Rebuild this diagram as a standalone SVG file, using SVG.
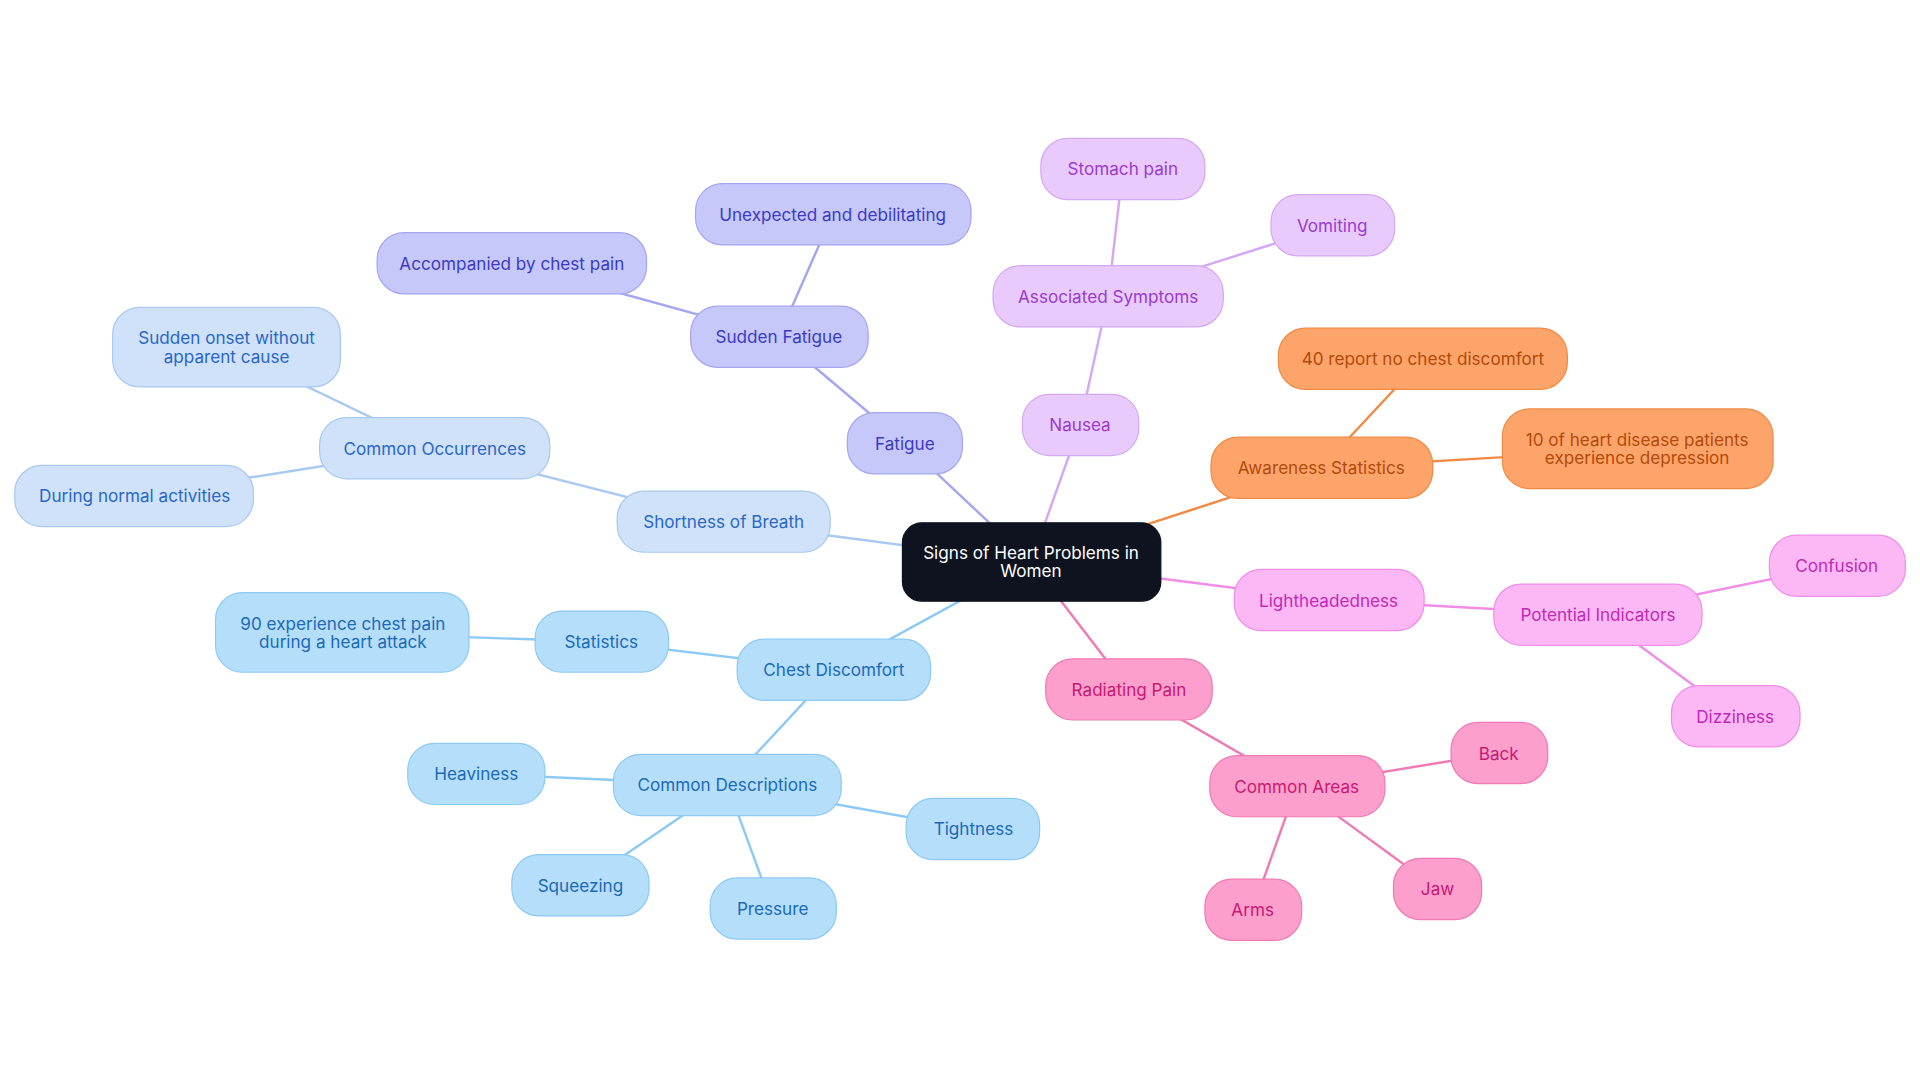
<svg xmlns="http://www.w3.org/2000/svg" width="1920" height="1083" viewBox="0 0 1920 1083">
<style>
text{font-family:Inter,"Noto Sans",sans-serif;font-size:14px;text-anchor:middle;dominant-baseline:central}
.c rect{fill:#0f131f;stroke:#0f131f}.c text{fill:#fff}
.f rect{fill:#c7c8fa;stroke:#a4a6f0}.f text{fill:#3a3ac4}
.s rect{fill:#cfe2fa;stroke:#a9c9f0}.s text{fill:#2a66c8}
.d rect{fill:#b5defb;stroke:#8ccaf5}.d text{fill:#1a6ab8}
.n rect{fill:#e8cbfc;stroke:#d4a8f5}.n text{fill:#9a3ad0}
.a rect{fill:#fda46a;stroke:#f08a44}.a text{fill:#b34a0a}
.l rect{fill:#fbb8f4;stroke:#f08ee6}.l text{fill:#c02ab4}
.r rect{fill:#fc9fcd;stroke:#f07ab4}.r text{fill:#c81872}
#edges line{stroke-width:2}
</style>
<rect width="1920" height="1083" fill="#fff"/>
<g transform="scale(1.2245)">
<g id="edges">
<g stroke="#a4a6f0"><line x1="842" y1="459" x2="739" y2="362"/><line x1="739" y1="362" x2="636" y2="275"/><line x1="636" y1="275" x2="680" y2="175"/><line x1="636" y1="275" x2="418" y2="215"/></g>
<g stroke="#a9c9f0"><line x1="842" y1="459" x2="591" y2="426"/><line x1="591" y1="426" x2="355" y2="366"/><line x1="355" y1="366" x2="185" y2="284"/><line x1="355" y1="366" x2="110" y2="405"/></g>
<g stroke="#8ccaf5"><line x1="842" y1="459" x2="681" y2="547"/><line x1="681" y1="547" x2="491" y2="524"/><line x1="491" y1="524" x2="280" y2="517"/><line x1="681" y1="547" x2="594" y2="641"/><line x1="594" y1="641" x2="389" y2="632"/><line x1="594" y1="641" x2="474" y2="723"/><line x1="594" y1="641" x2="631" y2="742"/><line x1="594" y1="641" x2="795" y2="677"/></g>
<g stroke="#d4a8f5"><line x1="842" y1="459" x2="882" y2="347"/><line x1="882" y1="347" x2="905" y2="242"/><line x1="905" y1="242" x2="917" y2="138"/><line x1="905" y1="242" x2="1088" y2="184"/></g>
<g stroke="#f08a44"><line x1="842" y1="459" x2="1079" y2="382"/><line x1="1079" y1="382" x2="1162" y2="293"/><line x1="1079" y1="382" x2="1337" y2="367"/></g>
<g stroke="#f08ee6"><line x1="842" y1="459" x2="1085" y2="490"/><line x1="1085" y1="490" x2="1305" y2="502"/><line x1="1305" y1="502" x2="1500" y2="462"/><line x1="1305" y1="502" x2="1417" y2="585"/></g>
<g stroke="#f07ab4"><line x1="842" y1="459" x2="922" y2="563"/><line x1="922" y1="563" x2="1059" y2="642"/><line x1="1059" y1="642" x2="1224" y2="615"/><line x1="1059" y1="642" x2="1174" y2="726"/><line x1="1059" y1="642" x2="1023" y2="743"/></g>
</g>
<g id="center" class="c"><rect x="737" y="427" width="211" height="64" rx="16"/><text x="842" y="451">Signs of Heart Problems in</text><text x="842" y="466">Women</text></g>
<g id="fatigue" class="f"><rect x="692" y="337" width="94" height="50" rx="22"/><text x="739" y="362">Fatigue</text></g>
<g id="sudden-fatigue" class="f"><rect x="564" y="250" width="145" height="50" rx="22"/><text x="636" y="275">Sudden Fatigue</text></g>
<g id="unexpected" class="f"><rect x="568" y="150" width="225" height="50" rx="22"/><text x="680" y="175">Unexpected and debilitating</text></g>
<g id="accompanied" class="f"><rect x="308" y="190" width="220" height="50" rx="22"/><text x="418" y="215">Accompanied by chest pain</text></g>
<g id="sob" class="s"><rect x="504" y="401" width="174" height="50" rx="22"/><text x="591" y="426">Shortness of Breath</text></g>
<g id="common-occ" class="s"><rect x="261" y="341" width="188" height="50" rx="22"/><text x="355" y="366">Common Occurrences</text></g>
<g id="sudden-onset" class="s"><rect x="92" y="251" width="186" height="65" rx="22"/><text x="185" y="276">Sudden onset without</text><text x="185" y="291">apparent cause</text></g>
<g id="normal" class="s"><rect x="12" y="380" width="195" height="50" rx="22"/><text x="110" y="405">During normal activities</text></g>
<g id="chest" class="d"><rect x="602" y="522" width="158" height="50" rx="22"/><text x="681" y="547">Chest Discomfort</text></g>
<g id="statistics" class="d"><rect x="437" y="499" width="109" height="50" rx="22"/><text x="491" y="524">Statistics</text></g>
<g id="ninety" class="d"><rect x="176" y="484" width="207" height="65" rx="22"/><text x="280" y="509">90 experience chest pain</text><text x="280" y="524">during a heart attack</text></g>
<g id="common-desc" class="d"><rect x="501" y="616" width="186" height="50" rx="22"/><text x="594" y="641">Common Descriptions</text></g>
<g id="heaviness" class="d"><rect x="333" y="607" width="112" height="50" rx="22"/><text x="389" y="632">Heaviness</text></g>
<g id="squeezing" class="d"><rect x="418" y="698" width="112" height="50" rx="22"/><text x="474" y="723">Squeezing</text></g>
<g id="pressure" class="d"><rect x="580" y="717" width="103" height="50" rx="22"/><text x="631" y="742">Pressure</text></g>
<g id="tightness" class="d"><rect x="740" y="652" width="109" height="50" rx="22"/><text x="795" y="677">Tightness</text></g>
<g id="nausea" class="n"><rect x="835" y="322" width="95" height="50" rx="22"/><text x="882" y="347">Nausea</text></g>
<g id="assoc" class="n"><rect x="811" y="217" width="188" height="50" rx="22"/><text x="905" y="242">Associated Symptoms</text></g>
<g id="stomach" class="n"><rect x="850" y="113" width="134" height="50" rx="22"/><text x="917" y="138">Stomach pain</text></g>
<g id="vomiting" class="n"><rect x="1038" y="159" width="101" height="50" rx="22"/><text x="1088" y="184">Vomiting</text></g>
<g id="awareness" class="a"><rect x="989" y="357" width="181" height="50" rx="22"/><text x="1079" y="382">Awareness Statistics</text></g>
<g id="forty" class="a"><rect x="1044" y="268" width="236" height="50" rx="22"/><text x="1162" y="293">40 report no chest discomfort</text></g>
<g id="ten" class="a"><rect x="1227" y="334" width="221" height="65" rx="22"/><text x="1337" y="359">10 of heart disease patients</text><text x="1337" y="374">experience depression</text></g>
<g id="lighthead" class="l"><rect x="1008" y="465" width="155" height="50" rx="22"/><text x="1085" y="490">Lightheadedness</text></g>
<g id="potential" class="l"><rect x="1220" y="477" width="170" height="50" rx="22"/><text x="1305" y="502">Potential Indicators</text></g>
<g id="confusion" class="l"><rect x="1445" y="437" width="111" height="50" rx="22"/><text x="1500" y="462">Confusion</text></g>
<g id="dizziness" class="l"><rect x="1365" y="560" width="105" height="50" rx="22"/><text x="1417" y="585">Dizziness</text></g>
<g id="radiating" class="r"><rect x="854" y="538" width="136" height="50" rx="22"/><text x="922" y="563">Radiating Pain</text></g>
<g id="common-areas" class="r"><rect x="988" y="617" width="143" height="50" rx="22"/><text x="1059" y="642">Common Areas</text></g>
<g id="back" class="r"><rect x="1185" y="590" width="79" height="50" rx="22"/><text x="1224" y="615">Back</text></g>
<g id="jaw" class="r"><rect x="1138" y="701" width="72" height="50" rx="22"/><text x="1174" y="726">Jaw</text></g>
<g id="arms" class="r"><rect x="984" y="718" width="79" height="50" rx="22"/><text x="1023" y="743">Arms</text></g>
</g>
</svg>
